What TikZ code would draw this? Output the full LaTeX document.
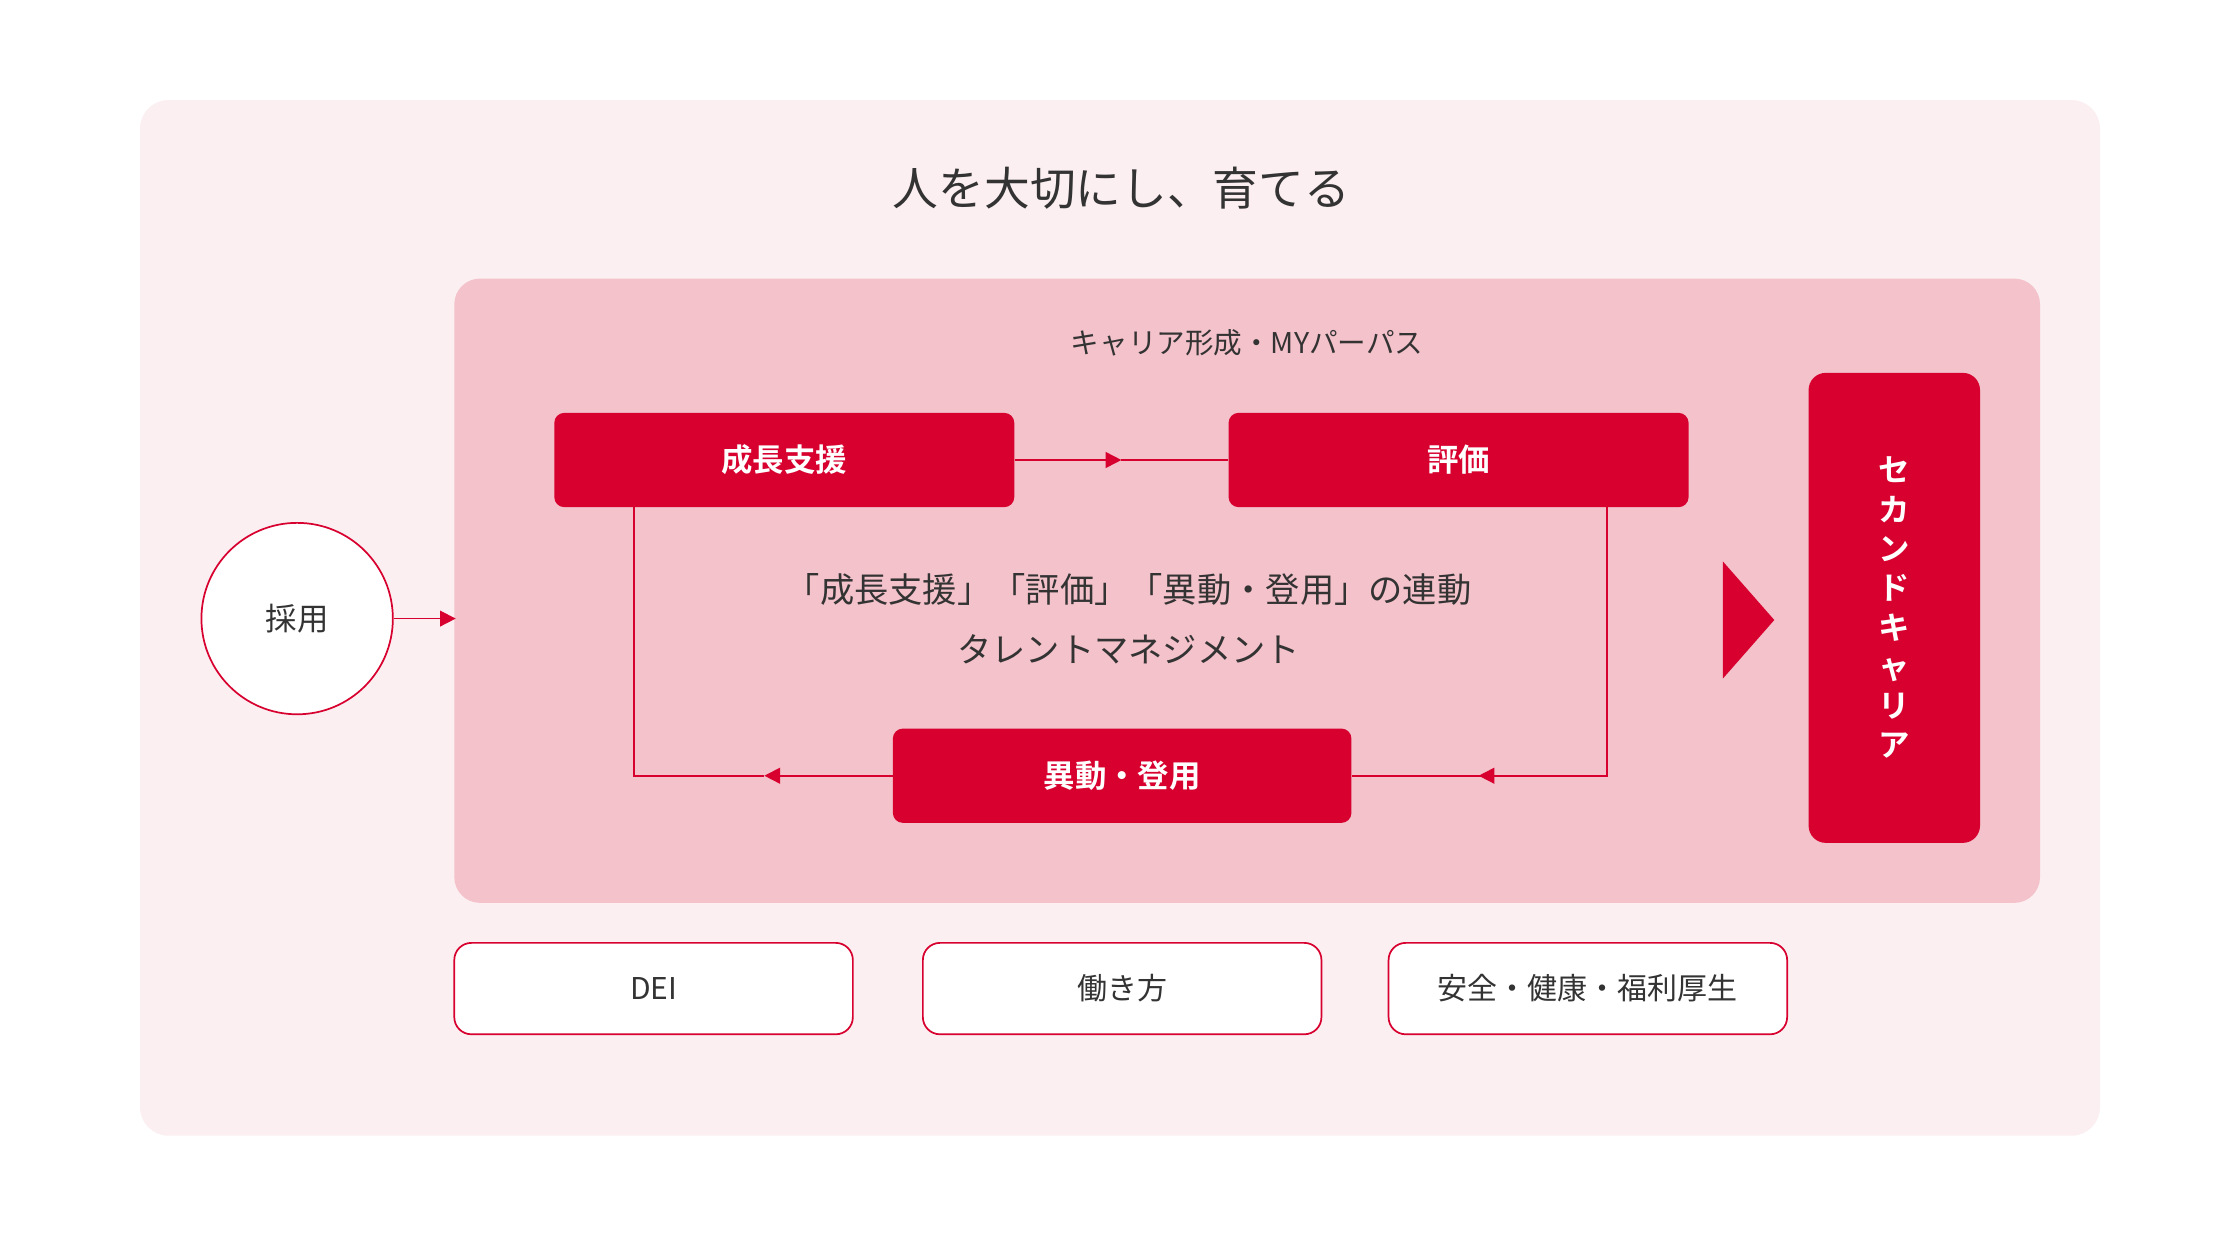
\documentclass[tikz,border=0pt]{standalone}
\usepackage{fontspec}
\setmainfont{Noto Sans CJK JP}
\newfontfamily\jpbold{Noto Sans CJK JP Bold}
\usetikzlibrary{arrows.meta}
\definecolor{bgpink}{HTML}{FBEFF1}
\definecolor{inpink}{HTML}{F4C2CB}
\definecolor{mainred}{HTML}{D7002F}
\definecolor{txt}{HTML}{333333}
\tikzset{
 redbox/.style={fill=mainred,rounded corners=7pt,inner sep=0pt,text=white,font=\jpbold\fontsize{22}{26}\selectfont},
 outbox/.style={draw=mainred,line width=1.2pt,fill=white,rounded corners=12pt,minimum width=279pt,minimum height=64pt,inner sep=0pt,text=txt,font=\fontsize{21}{25}\selectfont},
 conn/.style={draw=mainred,line width=1.2pt},
 tip/.style={-{Triangle[length=11pt,width=11pt]}},
}
\begin{document}
\begin{tikzpicture}[x=1pt,y=-1pt]
\useasboundingbox (0,0) rectangle (1568,865);
\fill[bgpink,rounded corners=20pt] (98,70) rectangle (1470,795);
\node[text=txt,font=\fontsize{32}{36}\selectfont] (title) at (785,132) {人を大切にし、育てる};
\fill[inpink,rounded corners=18pt] (318,195) rectangle (1428,632);
\node[text=txt,font=\fontsize{20}{24}\selectfont] (sub) at (873,240) {キャリア形成・MYパーパス};
\node[redbox,minimum width=322pt,minimum height=66pt] (grow) at (549,322) {成長支援};
\node[redbox,minimum width=322pt,minimum height=66pt] (eval) at (1021,322) {評価};
\node[redbox,minimum width=321pt,minimum height=66pt] (move) at (785.5,543) {異動・登用};
\coordinate (mid1) at (785,322);
\coordinate (c1) at (1125,543);
\coordinate (m2) at (1035,543);
\coordinate (c2) at (444,543);
\coordinate (m3) at (535,543);
\path[conn,tip] (grow.east) -- (mid1);
\path[conn] (mid1) -- (eval.west);
\path[conn] (eval.south -| c1) -- (c1) -- (m2);
\path[conn,tip] (c1) -- (m2);
\path[conn] (m2) -- (move.east);
\path[conn,tip] (move.west) -- (m3);
\path[conn] (m3) -- (c2) -- (c2 |- grow.south);
\node[text=txt,align=center,font=\fontsize{24}{42}\selectfont] (center) at (790,433) {「成長支援」「評価」「異動・登用」の連動\\タレントマネジメント};
\fill[mainred] (1206,393) -- (1242,434) -- (1206,475) -- cycle;
\node[fill=mainred,rounded corners=12pt,minimum width=120pt,minimum height=329pt,inner sep=0pt,text=white,align=center,font=\jpbold\fontsize{22}{27.5}\selectfont] (second) at (1326,425.5) {セ\\カ\\ン\\ド\\キ\\ャ\\リ\\ア};
\node[circle,draw=mainred,line width=1.2pt,fill=white,minimum size=134pt,inner sep=0pt,text=txt,font=\fontsize{22}{26}\selectfont] (hire) at (208,433) {採用};
\coordinate (inl) at (319,433);
\path[conn,tip] (hire.east) -- (inl);
\node[outbox] (dei) at (457.5,692) {DEI};
\node[outbox] (work) at (785.5,692) {働き方};
\node[outbox] (safe) at (1111.5,692) {安全・健康・福利厚生};
\end{tikzpicture}
\end{document}
